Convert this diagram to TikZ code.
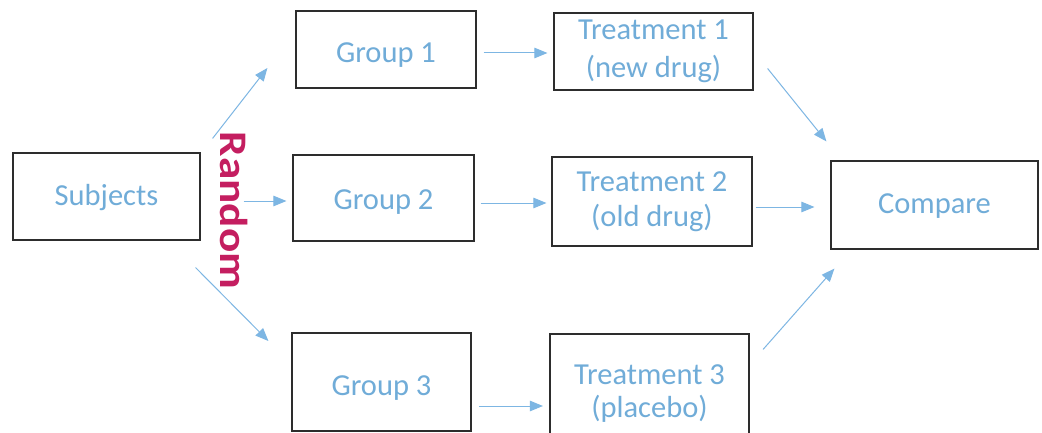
\documentclass[tikz,border=0pt]{standalone}
\usepackage{fontspec}
\usepackage{graphicx}
\setmainfont{Carlito}
\usetikzlibrary{arrows.meta}
\definecolor{txtblue}{RGB}{112,172,216}
\definecolor{arrblue}{RGB}{125,182,227}
\definecolor{randred}{RGB}{196,30,96}
\definecolor{boxline}{RGB}{45,45,45}
\tikzset{
  box/.style={draw=boxline, line width=1.2pt, text=txtblue, align=center, inner sep=0pt,
    font=\fontsize{30.5}{38}\selectfont},
  base/.style={text height=#1, text depth=0pt},
  arr/.style={draw=arrblue, line width=1pt, -{Triangle[length=13pt,width=10.5pt]}},
}
\begin{document}
\begin{tikzpicture}[x=1pt,y=-1pt]
\path[use as bounding box, fill=white] (0,0) rectangle (1042,433);
\node[box, base=17pt, minimum width=187pt, minimum height=87pt] (s) at (106.5,196.5) {Subjects};
\node[box, base=27pt, minimum width=180pt, minimum height=77pt] (g1) at (386,49.5) {Group 1};
\node[box, base=22pt, minimum width=181pt, minimum height=86pt] (g2) at (383.5,198) {Group 2};
\node[box, base=26pt, minimum width=179pt, minimum height=98pt] (g3) at (381.5,382) {Group 3};
\node[box, minimum width=199pt, minimum height=77pt] (t1) at (653.5,51.5) {Treatment 1\\(new drug)};
\node[box, font=\fontsize{30.5}{35}\selectfont, minimum width=200pt, minimum height=89pt] (t2) at (652,201.5) {Treatment 2\\(old drug)};
\node[box, font=\fontsize{30.5}{33}\selectfont, minimum width=199pt, minimum height=120pt] (t3) at (649.5,394) {Treatment 3\\(placebo)};
\node[box, base=17pt, minimum width=207pt, minimum height=88pt] (cmp) at (934.5,205) {Compare};
\node[text=randred, font=\fontsize{39}{40}\selectfont\bfseries, rotate=-90, inner sep=0pt] (rnd) at (234,210.5) {\scalebox{1.16}[1]{Random}};
% subjects to groups
\draw[arr] ([xshift=12pt,yshift=14pt]s.north east) -- ([xshift=-28pt,yshift=-18.5pt]g1.west);
\draw[arr] ([xshift=43pt,yshift=-4.5pt]s.east) -- ([xshift=-6pt,yshift=-3pt]g2.west);
\draw[arr] ([xshift=-5pt,yshift=-27pt]s.south east) -- ([xshift=-23pt,yshift=41pt]g3.west);
% groups to treatments
\draw[arr, shorten <=7pt, shorten >=6pt] ([yshift=-3.5pt]g1.east) -- ([yshift=-1.5pt]t1.west);
\draw[arr, shorten <=6pt, shorten >=5pt] ([yshift=-5pt]g2.east) -- ([yshift=-1.5pt]t2.west);
\draw[arr, shorten <=7.5pt, shorten >=6.5pt] ([yshift=-24pt]g3.east) -- ([yshift=-12pt]t3.west);
% treatments to compare
\draw[arr] ([xshift=14pt,yshift=-17pt]t1.east) -- ([xshift=-4pt,yshift=19pt]cmp.north west);
\draw[arr, shorten <=3pt, shorten >=16pt] ([yshift=-5.5pt]t2.east) -- ([yshift=-2pt]cmp.west);
\draw[arr] ([xshift=13.5pt,yshift=-16pt]t3.north east) -- ([xshift=4pt,yshift=-19pt]cmp.south west);
\end{tikzpicture}
\end{document}
